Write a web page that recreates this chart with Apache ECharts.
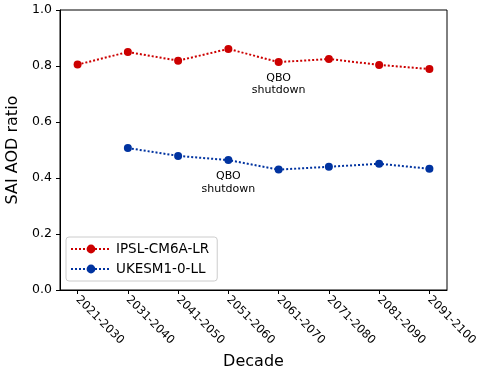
<!DOCTYPE html>
<html lang="en">
<head>
    <meta charset="UTF-8">
    <title>SAI AOD ratio</title>
    <script src="https://cdn.jsdelivr.net/npm/echarts@6/dist/echarts.min.js"></script>
    <style>
        body { margin: 0; background: #fff; }
    </style>
</head>
<body>
    <div id="main" style="width:487px;height:373px;"></div>
    <script>
    var decades = ['2021-2030', '2031-2040', '2041-2050', '2051-2060',
                   '2061-2070', '2071-2080', '2081-2090', '2091-2100'];
    var ipsl = [0.805, 0.850, 0.819, 0.861, 0.814, 0.825, 0.804, 0.789];
    var ukesm = [null, 0.507, 0.479, 0.464, 0.430, 0.440, 0.451, 0.433];

    function pairs(vals) {
        return vals.map(function (v, i) { return [i, v]; })
                   .filter(function (p) { return p[1] !== null; });
    }
    var idx = decades.map(function (d, i) { return i; });

    var font = 'DejaVu Sans';
    function note(coord) {
        return {
            symbol: 'rect', symbolSize: 10,
            itemStyle: { color: 'transparent' },
            label: { show: true, position: 'inside', formatter: 'QBO\nshutdown',
                     color: '#000', fontFamily: font, fontSize: 11, lineHeight: 12.5 },
            data: [{ coord: coord }]
        };
    }

    var chart = echarts.init(document.getElementById('main'));
    chart.setOption({
        animation: false,
        textStyle: { fontFamily: font },
        grid: { left: 60, right: 40, top: 10, bottom: 83, show: true,
                outerBoundsMode: 'none', containLabel: false,
                borderColor: '#000', borderWidth: 1 },
        xAxis: {
            type: 'value', min: -0.35, max: 7.35,
            name: 'Decade', nameLocation: 'middle', nameGap: 64,
            nameTextStyle: { color: '#000', fontSize: 16 },
            axisLine: { onZero: false, lineStyle: { color: '#000' } },
            axisTick: { length: 4, lineStyle: { color: '#000' }, customValues: idx },
            splitLine: { show: false },
            axisLabel: {
                customValues: idx, rotate: -45, color: '#000', fontSize: 11.5, margin: 8,
                formatter: function (v) { return decades[Math.round(v)]; }
            }
        },
        yAxis: {
            type: 'value', min: 0, max: 1, interval: 0.2,
            name: 'SAI AOD ratio', nameLocation: 'middle', nameGap: 36,
            nameTextStyle: { color: '#000', fontSize: 16 },
            axisLine: { show: true, onZero: false, lineStyle: { color: '#000' } },
            axisTick: { show: true, length: 4, lineStyle: { color: '#000' } },
            splitLine: { show: false },
            axisLabel: { color: '#000', fontSize: 12.5, margin: 8,
                         formatter: function (v) { return v.toFixed(1); } }
        },
        legend: {
            left: 66, top: 237, orient: 'vertical',
            backgroundColor: 'rgba(255,255,255,0.8)', borderColor: '#ccc', borderWidth: 1,
            borderRadius: 3, padding: [5, 8, 5, 4], itemGap: 6, itemWidth: 40, itemHeight: 11,
            textStyle: { color: '#000', fontSize: 13.5 },
            data: ['IPSL-CM6A-LR', 'UKESM1-0-LL']
        },
        series: [{
            name: 'IPSL-CM6A-LR', type: 'line', data: pairs(ipsl),
            color: '#cc0000', symbol: 'circle', symbolSize: 8,
            lineStyle: { type: 'dotted', width: 2 },
            markPoint: note([4, 0.736])
        }, {
            name: 'UKESM1-0-LL', type: 'line', data: pairs(ukesm),
            color: '#0033a0', symbol: 'circle', symbolSize: 8,
            lineStyle: { type: 'dotted', width: 2 },
            markPoint: note([3, 0.383])
        }]
    });
    </script>
</body>
</html>
